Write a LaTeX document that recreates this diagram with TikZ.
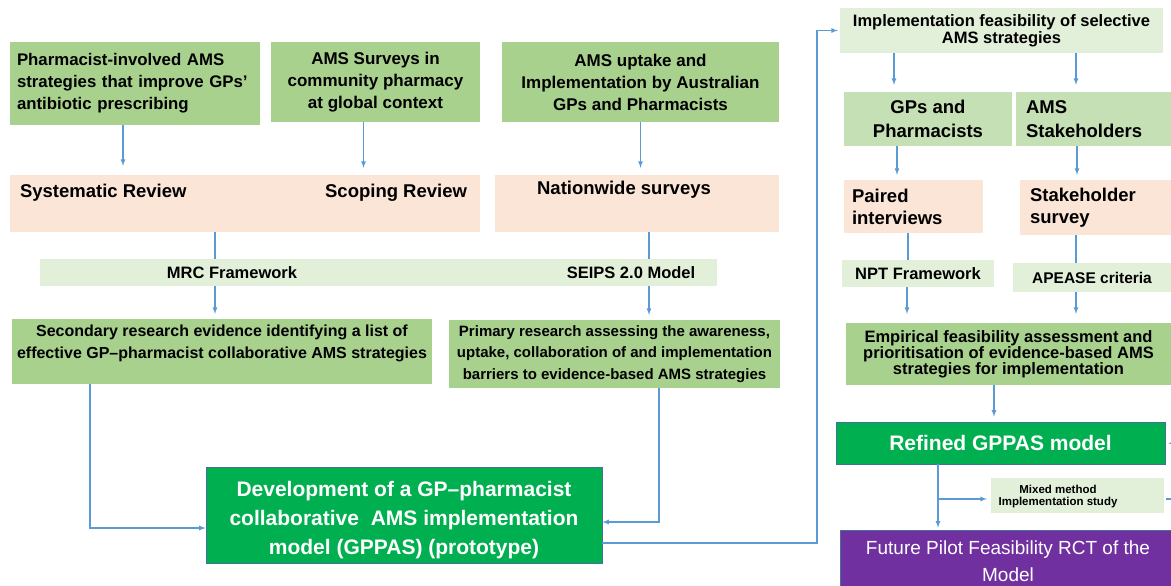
\documentclass[tikz,border=0pt]{standalone}
\usepackage{fontspec}
\setmainfont{Liberation Sans}
\usetikzlibrary{arrows}
\definecolor{leafgreen}{HTML}{A9D18E}
\definecolor{palegreen}{HTML}{E2F0D9}
\definecolor{softgreen}{HTML}{C5E0B4}
\definecolor{peach}{HTML}{FBE5D6}
\definecolor{deepgreen}{HTML}{00B050}
\definecolor{plum}{HTML}{7030A0}
\definecolor{linkblue}{HTML}{5B9BD5}
\definecolor{rimblue}{HTML}{41719C}
\newcommand{\fsz}[2]{\fontsize{#1}{#2}\selectfont}
\tikzstyle{topic} = [rectangle,
inner sep=0pt,
align=center,
fill=leafgreen,
font=\bfseries\fsz{17}{22}]
\tikzstyle{method} = [rectangle,
inner sep=0pt,
fill=peach]
\tikzstyle{frame} = [rectangle,
inner sep=0pt,
align=center,
fill=palegreen,
font=\bfseries\fsz{16.5}{17}]
\tikzstyle{group} = [rectangle,
inner sep=0pt,
align=center,
fill=softgreen,
font=\bfseries\fsz{18.5}{24}]
\tikzstyle{result} = [rectangle,
inner sep=0pt,
align=center,
fill=deepgreen,
draw=rimblue,
line width=0.8pt,
text=white,
font=\bfseries\fsz{21}{29}]
\tikzstyle{label} = [inner sep=0pt, font=\bfseries\fsz{18.5}{22}]
\tikzstyle{line} = [color=linkblue, line width=1.2pt]
\tikzstyle{arrow} = [line, ->, >=latex]

\begin{document}
\begin{tikzpicture}[x=1pt, y=-1pt]
			\clip (0,0) rectangle (1171,586);
			\fill[white] (0,0) rectangle (1171,586);

			% left part: reviews and surveys
			\node (pharm) [topic, align=left, font=\bfseries\fsz{16.8}{22}, text width=236, minimum height=83, inner xsep=7] at (135,83.5) {Pharmacist-involved AMS\\strategies that improve GPs’\\antibiotic prescribing};
			\node (surveys) [topic, minimum width=209, minimum height=80] at (375.5,82) {AMS Surveys in\\community pharmacy\\at global context};
			\node (uptake) [topic, minimum width=277, minimum height=80] at (640.5,82) {AMS uptake and\\Implementation by Australian\\GPs and Pharmacists};
			\node (rev) [method, minimum width=470, minimum height=57] at (245,203.5) {};
			\node (sysrev) [label, anchor=west] at ([shift={(10,18)}]rev.north west) {Systematic Review};
			\node (scoprev) [label, anchor=east] at ([shift={(-13,18)}]rev.north east) {Scoping Review};
			\node (nation) [method, minimum width=284, minimum height=57] at (637,203.5) {};
			\node (natxt) [label] at ([shift={(-13,15)}]nation.north) {Nationwide surveys};
			\node (band) [frame, minimum width=677, minimum height=27] at (378.5,272.5) {};
			\node (mrc) [frame, fill=none] at ([xshift=-146.5pt]band.center) {MRC Framework};
			\node (seips) [frame, fill=none] at ([xshift=252.5pt]band.center) {SEIPS 2.0 Model};
			\node (second) [topic, font=\bfseries\fsz{16}{22}, text depth=20pt, minimum width=420, minimum height=65] at (222,351.5) {Secondary research evidence identifying a list of\\effective GP–pharmacist collaborative AMS strategies};
			\node (primary) [topic, font=\bfseries\fsz{15}{21.5}, minimum width=331, minimum height=68] at (614.5,354) {Primary research assessing the awareness,\\uptake, collaboration of and implementation\\barriers to evidence-based AMS strategies};
			\node (devel) [result, text height=83pt, minimum width=396, minimum height=96] at (404,515) {Development of a GP–pharmacist\\collaborative\ \ AMS implementation\\model (GPPAS) (prototype)};

			% right part: feasibility
			\node (impl) [frame, minimum width=323, minimum height=45] at (1001.5,30.5) {Implementation feasibility of selective\\AMS strategies};
			\node (gpsph) [group, minimum width=168, minimum height=54] at (928,119) {GPs and\\Pharmacists};
			\node (stake) [group, align=left, text width=135, inner xsep=10, minimum height=54] at (1093.5,119) {AMS\\Stakeholders};
			\node (paired) [method, label, align=left, text width=123, inner xsep=8, minimum height=53, font=\bfseries\fsz{18.5}{22}] at (913.5,206.5) {Paired\\interviews};
			\node (stsurv) [method, label, align=left, text width=131, inner xsep=10, minimum height=55, font=\bfseries\fsz{18.5}{22}] at (1095.5,207.5) {Stakeholder\\survey};
			\node (npt) [frame, minimum width=152, minimum height=27] at (918,273.5) {NPT Framework};
			\node (apease) [frame, font=\bfseries\fsz{15.5}{17}, minimum width=158, minimum height=29] at (1092,277.5) {APEASE criteria};
			\node (empir) [topic, font=\bfseries\fsz{16.5}{16}, minimum width=325, minimum height=62] at (1008.5,354) {Empirical feasibility assessment and\\prioritisation of evidence-based AMS\\strategies for implementation};
			\node (refined) [result, minimum width=329, minimum height=42] at (1000.5,443) {Refined GPPAS model};
			\node (mixed) [frame, minimum width=173, minimum height=35] at (1077.5,495.5) {};
			\node (mixtxt) [frame, fill=none, font=\bfseries\fsz{11.5}{12}] at ([xshift=-19.5pt, yshift=-1pt]mixed.center) {Mixed method\\Implementation study};
			\node (future) [result, font=\fsz{19}{27}, fill=plum, minimum width=336, minimum height=62] at (1008,561) {Future Pilot Feasibility RCT of the\\Model};

			\coordinate (turn) at (817,290);
			\coordinate (split) at ([xshift=-62.5pt, yshift=-3.5pt]refined.south |- mixed.west);
			\coordinate (loopin) at (1185,444);
			\coordinate (loopout) at (1185,499);

			\draw[arrow, shorten >=9pt] ([xshift=-12pt]pharm.south) -- ([xshift=-12pt]pharm.south |- rev.north);
			\draw[arrow, shorten >=7pt] ([xshift=-12pt]surveys.south) -- ([xshift=-12pt]surveys.south |- rev.north);
			\draw[arrow, shorten >=7pt] (uptake.south) -- (uptake.south |- nation.north);
			\draw[line] ([xshift=-30pt]rev.south) -- ([xshift=-30pt]rev.south |- band.north);
			\draw[line] ([xshift=12pt]nation.south) -- ([xshift=12pt]nation.south |- band.north);
			\draw[arrow, shorten >=5pt] ([xshift=-7pt]second.north |- band.south) -- ([xshift=-7pt]second.north);
			\draw[arrow, shorten >=5pt] ([xshift=34.5pt]primary.north |- band.south) -- ([xshift=34.5pt]primary.north);
			\draw[arrow] ([xshift=-132pt]second.south) |- ([yshift=-13pt]devel.west);
			\draw[arrow] ([xshift=44.5pt]primary.south) |- ([yshift=-7pt]devel.east);
			\draw[arrow, shorten >=2pt] ([yshift=-28pt]devel.east) -| (turn) |- (impl.west);

			\draw[arrow, shorten >=7pt] ([xshift=-34pt]gpsph.north |- impl.south) -- ([xshift=-34pt]gpsph.north);
			\draw[arrow, shorten >=7pt] ([xshift=-17.5pt]stake.north |- impl.south) -- ([xshift=-17.5pt]stake.north);
			\draw[arrow, shorten >=5pt] ([xshift=-16.5pt]paired.north |- gpsph.south) -- ([xshift=-16.5pt]paired.north);
			\draw[arrow, shorten >=5pt] ([xshift=-18.5pt]stsurv.north |- stake.south) -- ([xshift=-18.5pt]stsurv.north);
			\draw[line] ([xshift=-10pt]npt.north |- paired.south) -- ([xshift=-10pt]npt.north);
			\draw[line] ([xshift=-16pt]apease.north |- stsurv.south) -- ([xshift=-16pt]apease.north);
			\draw[arrow, shorten >=9pt] ([xshift=-101.5pt]empir.north |- npt.south) -- ([xshift=-101.5pt]empir.north);
			\draw[arrow, shorten >=9pt] ([xshift=67.5pt]empir.north |- apease.south) -- ([xshift=67.5pt]empir.north);
			\draw[arrow, shorten >=5pt] ([xshift=-6.5pt]refined.north |- empir.south) -- ([xshift=-6.5pt]refined.north);
			\draw[arrow, shorten >=2pt] ([xshift=-62.5pt]refined.south) -- ([xshift=-62.5pt]refined.south |- future.north);
			\draw[arrow, shorten >=4pt] (split) -- (split -| mixed.west);
			\draw[arrow, shorten >=3pt] (loopin) -- (refined.east);
			\draw[line, line width=2.5pt] ([xshift=2pt]mixed.east |- loopout) -- (loopout);
		\end{tikzpicture}
\end{document}
